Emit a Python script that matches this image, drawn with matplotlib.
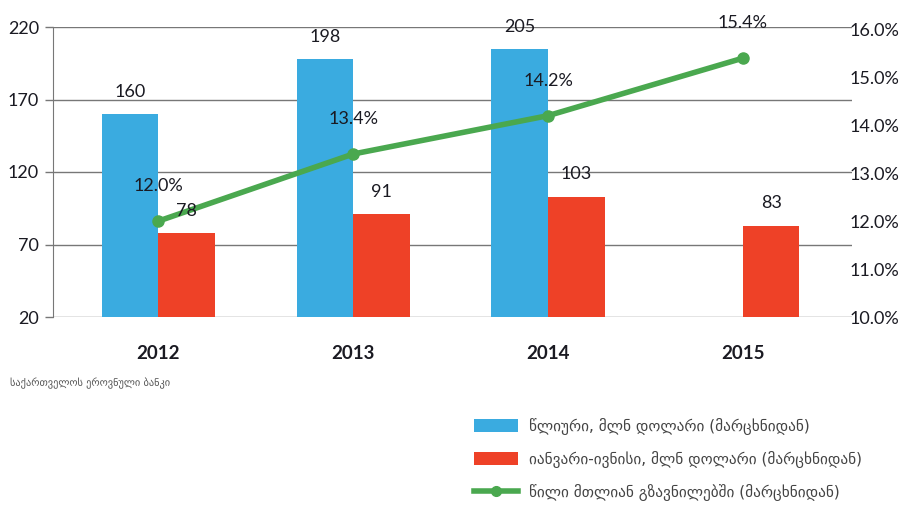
"""Remittances to Georgia: annual and Jan-Jun volumes with share of total."""

import matplotlib
matplotlib.use("Agg")
import matplotlib.pyplot as plt
import numpy as np
from matplotlib.lines import Line2D
from matplotlib.patches import Patch

# ---------------------------------------------------------------------------
# Data
# ---------------------------------------------------------------------------
years = ["2012", "2013", "2014", "2015"]
annual = [160, 198, 205, np.nan]          # mln USD, left axis
jan_jun = [78, 91, 103, 83]               # mln USD, left axis
share = [12.0, 13.4, 14.2, 15.4]          # %, right axis

left_ticks = [20, 70, 120, 170, 220]
right_ticks = [10, 11, 12, 13, 14, 15, 16]

label_annual = "წლიური, მლნ დოლარი (მარცხნიდან)"
label_jan_jun = "იანვარი-ივნისი, მლნ დოლარი (მარცხნიდან)"
label_share = "წილი მთლიან გზავნილებში (მარცხნიდან)"
source = "საქართველოს ეროვნული ბანკი"

BLUE = "#3aabe0"
RED = "#ee4127"
GREEN = "#4aa84f"
TEXT = "#1a1a22"

plt.rcParams["font.family"] = ["Lato", "DejaVu Sans"]

fig = plt.figure(figsize=(9.08, 5.05), dpi=100)
ax = fig.add_axes([53 / 908, 1 - 317 / 505, (852 - 53) / 908, 290 / 505])
ax2 = ax.twinx()

x = np.arange(len(years))
w = 0.29

ax.bar(x - w / 2, annual, w, color=BLUE, zorder=2)
ax.bar(x + w / 2, jan_jun, w, color=RED, zorder=2)

ax.set_ylim(20, 220)
ax.set_yticks(left_ticks)
ax.set_xlim(-0.54, 3.56)
ax.set_xticks(x)
ax.set_xticklabels(years, fontsize=13.5, fontweight="bold", color=TEXT)
ax.tick_params(axis="x", length=0, pad=20)
ax.tick_params(axis="y", length=6, width=1, color="#777777", pad=4,
               labelsize=13, labelcolor=TEXT)
ax.grid(axis="y", color="#777777", linewidth=1, zorder=0)
ax.set_axisbelow(True)
for side in ["top", "right", "bottom"]:
    ax.spines[side].set_visible(False)
ax.spines["left"].set_color("#777777")

ax2.plot(x, share, color=GREEN, linewidth=4, marker="o", markersize=8, zorder=3)
ax2.set_ylim(10, 16.05)
ax2.set_yticks(right_ticks)
ax2.set_yticklabels([f"{t:.1f}%" for t in right_ticks])
ax2.tick_params(axis="y", length=0, pad=-2, labelsize=13, labelcolor=TEXT)
for side in ["top", "right", "bottom", "left"]:
    ax2.spines[side].set_visible(False)

# value labels sit above the line, so draw them all on the top axes
for xi, v in zip(x - w / 2, annual):
    if not np.isnan(v):
        ax2.annotate(f"{v:g}", (xi, v), xycoords=ax.transData, xytext=(0, 16),
                     textcoords="offset points", ha="center", va="center",
                     fontsize=13, color=TEXT, zorder=5)
for xi, v in zip(x + w / 2, jan_jun):
    ax2.annotate(f"{v:g}", (xi, v), xycoords=ax.transData, xytext=(0, 16),
                 textcoords="offset points", ha="center", va="center",
                 fontsize=13, color=TEXT, zorder=5)
for xi, v in zip(x, share):
    ax2.annotate(f"{v:.1f}%", (xi, v), xytext=(0, 25), textcoords="offset points",
                 ha="center", va="center", fontsize=13, color=TEXT, zorder=5)

fig.text(10 / 908, 1 - 383 / 505, source, fontsize=7.5, color="#555555",
         va="center", family=["DejaVu Sans"])

handles = [
    Patch(facecolor=BLUE),
    Patch(facecolor=RED),
    Line2D([0], [0], color=GREEN, linewidth=4, marker="o", markersize=7),
]
leg = fig.legend(handles, [label_annual, label_jan_jun, label_share],
                 loc="upper left", bbox_to_anchor=(460 / 908, 1 - 404 / 505),
                 frameon=False, handlelength=2.9, handleheight=1.0,
                 labelspacing=1.05, handletextpad=0.7,
                 prop={"family": ["DejaVu Sans"], "size": 11})
for t in leg.get_texts():
    t.set_color("#444444")

fig.savefig("out.png", dpi=100)
